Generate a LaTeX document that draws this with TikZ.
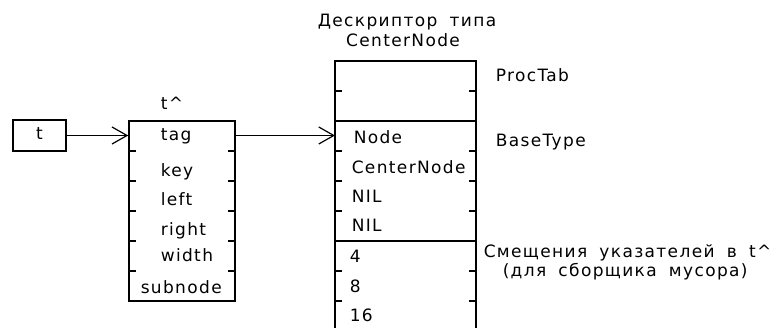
\documentclass[tikz,border=0pt]{standalone}
\usepackage{fontspec}
\setmainfont{DejaVu Sans}[LetterSpace=8,WordSpace=1.8]
\usetikzlibrary{arrows.meta}

\tikzset{
  lbl/.style={anchor=base west, inner sep=0pt, font=\fontsize{17}{19}\selectfont},
  ptr/.style={-{Straight Barb[length=15pt,width=17pt]}, line width=1.2pt},
  cell/.style={draw, line width=1.5pt, inner sep=0pt}
}

\begin{document}
\begin{tikzpicture}[x=1pt, y=-1pt, line width=1.5pt]
    \useasboundingbox (0,0) rectangle (771,328);

    % Указатель t
    \node[cell, minimum width=53pt, minimum height=31pt] (t) at (39.5,135.5) {};
    \node[lbl, anchor=base] (t-name) at (39.5,140) {t};

    % Запись t^
    \node[cell, minimum width=106pt, minimum height=180pt] (rec) at (182,211) {};
    \foreach \y in {151,181,211,241,271} {
        \draw (129,\y) -- ++(7,0);
        \draw (235,\y) -- ++(-7,0);
    }
    \node[lbl] (rec-title) at (160,110) {t\textasciicircum};
    \foreach \txt/\x/\y in {tag/160/141, key/160/177, left/160/206,
                            right/160/236, width/160/262, subnode/140/294}
        \node[lbl] (rec-\txt) at (\x,\y) {\txt};

    % Дескриптор типа
    \coordinate (desc) at (335,61);
    \draw (335,328) -- (desc) -- (476,61) -- (476,328);
    \draw (335,121) -- (476,121);
    \draw (335,241) -- (476,241);
    \foreach \y in {91,151,181,211,271,301} {
        \draw (335,\y) -- ++(7,0);
        \draw (476,\y) -- ++(-7,0);
    }
    \node[lbl, anchor=base] (desc-title) at (407,27) {Дескриптор типа};
    \node[lbl, anchor=base] (desc-type) at (403,47) {CenterNode};
    \foreach \txt/\x/\y [count=\i] in {Node/353/144, CenterNode/351/174, NIL/351/203,
                            NIL/351/232, 4/349/263, 8/349/293, 16/349/322}
        \node[lbl] (desc-\i) at (\x,\y) {\txt};

    % Пояснения справа
    \node[lbl] (proctab) at (495,82) {ProcTab};
    \node[lbl] (basetype) at (495,147) {BaseType};
    \node[lbl] (offs) at (483,258) {Смещения указателей в t\textasciicircum};
    \node[lbl] (gc) at (502,277) {(для сборщика мусора)};

    % Связи
    \draw[ptr] (t.east) -- (rec.west |- t.east);
    \draw[ptr] (rec.east |- t.east) -- (desc |- t.east);
\end{tikzpicture}
\end{document}
